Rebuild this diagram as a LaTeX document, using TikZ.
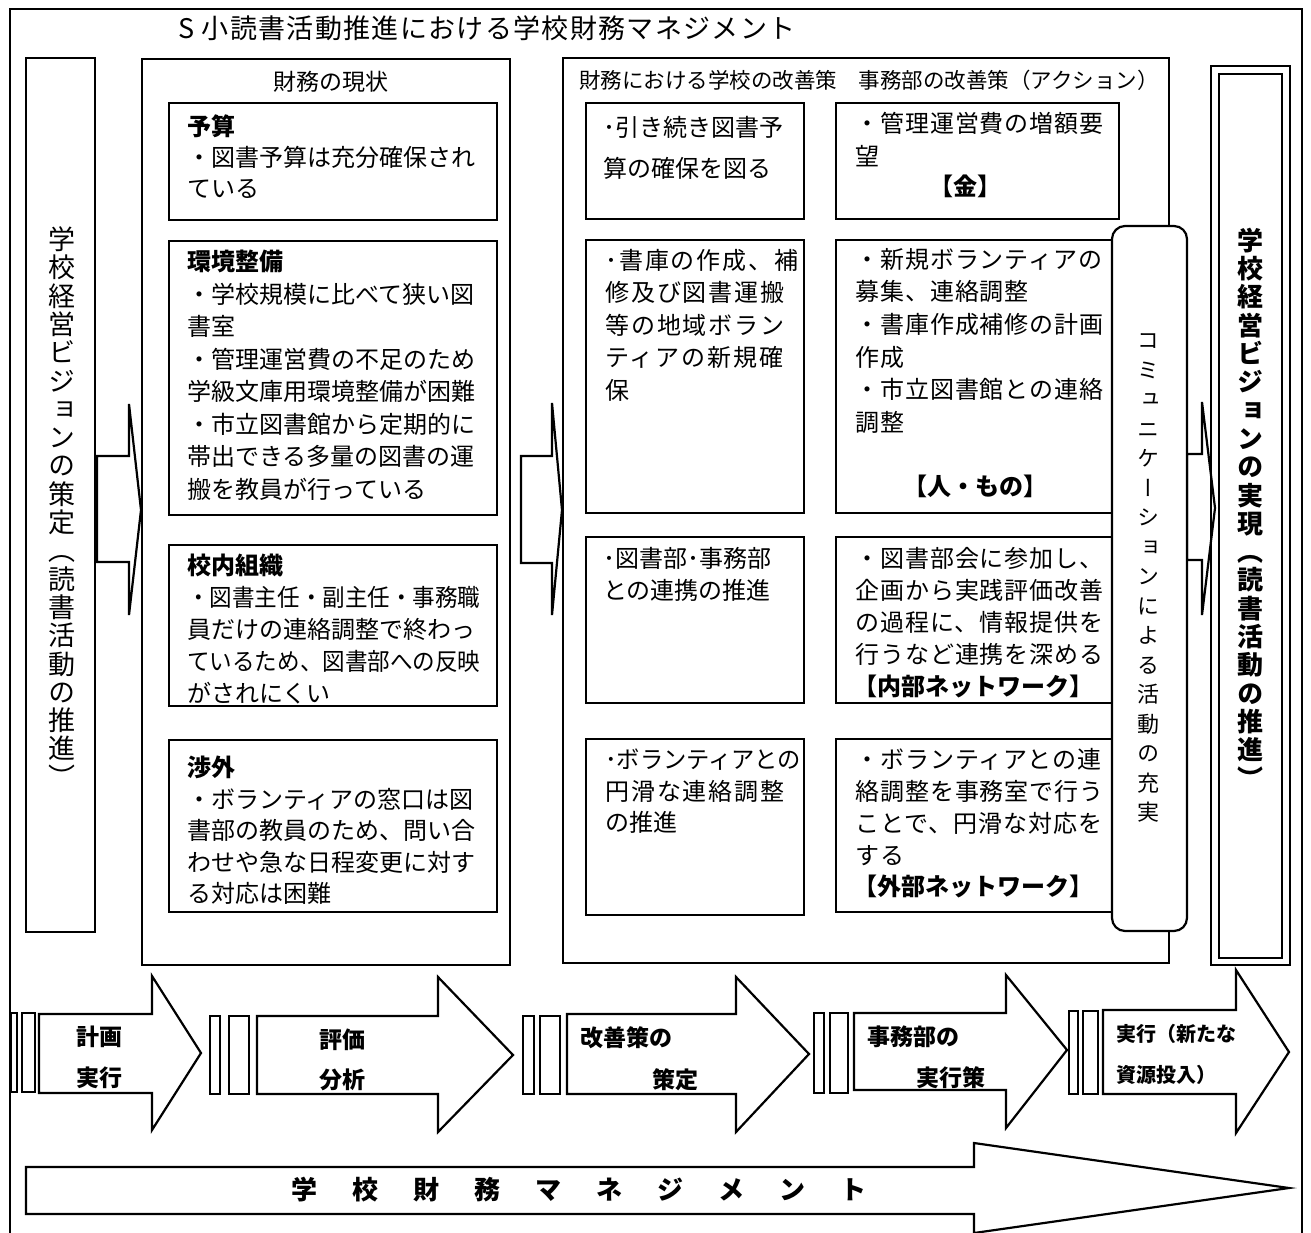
\documentclass[tikz,border=0pt]{standalone}
\usepackage{fontspec}
\setmainfont{Noto Sans CJK JP}
\newfontfamily\vfont[RawFeature=+vert]{Noto Sans CJK JP}
\newcommand{\lsp}[1]{\addfontfeature{LetterSpace=#1}}
\begin{document}
\begin{tikzpicture}[x=1pt,y=-1pt,
 frame/.style={draw, line width=2pt},
 box/.style={draw, line width=2.2pt, fill=white},
 blk/.style={draw, line width=2.2pt, fill=white, line join=miter},
 t/.style={font=\fontsize{24}{32.5}\selectfont, align=left, inner sep=0pt, anchor=north west},
 tb/.style={font=\bfseries\fontsize{24}{30}\selectfont, inner sep=0pt},
 ts/.style={font=\bfseries\fontsize{23}{30}\selectfont, inner sep=0pt, anchor=west},
 vt/.style={align=center, inner sep=0pt},
]
\useasboundingbox (0,0) rectangle (1311,1232);
% outer frame
\draw[frame] (10,1240) -- (10,9) -- (1302,9) -- (1302,1240);
\node[anchor=west, inner sep=0pt, font=\fontsize{27}{30}\selectfont\lsp{5}] (title) at (178,28) {S 小読書活動推進における学校財務マネジメント};

% columns
\draw[box] (26,58) rectangle (95,932);
\draw[box] (142,59) rectangle (510,965);
\draw[box] (563,58) rectangle (1169,963);

% status boxes
\draw[box] (169,103) rectangle (497,220);
\draw[box] (169,241) rectangle (497,515);
\draw[box] (169,545) rectangle (497,706);
\draw[box] (169,740) rectangle (497,912);

% improvement boxes
\draw[box] (586,103) rectangle (804,219);
\draw[box] (586,240) rectangle (804,513);
\draw[box] (586,537) rectangle (804,703);
\draw[box] (586,739) rectangle (804,915);
\draw[box] (836,103) rectangle (1119,219);
\draw[box] (836,240) rectangle (1119,513);
\draw[box] (836,537) rectangle (1119,703);
\draw[box] (836,739) rectangle (1119,912);

% column arrows
\draw[blk] (97,456) -- (129,456) -- (129,404) -- (141,510) -- (129,615) -- (129,562) -- (97,562) -- cycle;
\draw[blk] (521,456) -- (552,456) -- (552,403) -- (562,510) -- (552,615) -- (552,563) -- (521,563) -- cycle;
\draw[blk] (1187,454) -- (1202,454) -- (1202,402) -- (1215,508) -- (1202,615) -- (1202,560) -- (1187,560) -- cycle;

% communication pill
\draw[box, rounded corners=13pt] (1112,226) rectangle (1187,931);

% right double frame
\draw[line width=2.6pt] (1211,66) rectangle (1290,965);
\draw[line width=2pt] (1219,74) rectangle (1282,958);

% bottom cycle arrows
\draw[box] (11,1013) rectangle (17,1092);
\draw[box] (22,1013) rectangle (35,1092);
\draw[blk] (39,1014) -- (152,1014) -- (152,976) -- (201,1053) -- (152,1130) -- (152,1093) -- (39,1093) -- cycle;
\draw[box] (210,1016) rectangle (220,1094);
\draw[box] (229,1016) rectangle (249,1094);
\draw[blk] (257,1016) -- (438,1016) -- (438,977) -- (513,1055) -- (438,1132) -- (438,1094) -- (257,1094) -- cycle;
\draw[box] (523,1016) rectangle (534,1094);
\draw[box] (540,1016) rectangle (560,1094);
\draw[blk] (567,1014) -- (736,1014) -- (736,977) -- (809,1054) -- (736,1132) -- (736,1094) -- (567,1094) -- cycle;
\draw[box] (814,1013) rectangle (824,1093);
\draw[box] (830,1013) rectangle (848,1093);
\draw[blk] (854,1013) -- (1006,1013) -- (1006,975) -- (1067,1050) -- (1006,1128) -- (1006,1090) -- (854,1090) -- cycle;
\draw[box] (1069,1011) rectangle (1078,1094);
\draw[box] (1083,1011) rectangle (1098,1094);
\draw[blk] (1103,1010) -- (1236,1010) -- (1236,970) -- (1289,1052) -- (1236,1133) -- (1236,1094) -- (1103,1094) -- cycle;

% big arrow
\draw[blk] (26,1167) -- (974,1167) -- (974,1143) -- (1289,1188) -- (974,1233) -- (974,1214) -- (26,1214) -- cycle;

% texts: column headers
\node[inner sep=0pt, font=\fontsize{23}{28}\selectfont] (h1) at (331,82) {財務の現状};
\node[anchor=west, inner sep=0pt, font=\fontsize{21.5}{26}\selectfont] (h2) at (579,80) {財務における学校の改善策　事務部の改善策（アクション）};

% status texts
\node[t, font=\fontsize{24}{31}\selectfont] (s1) at (187,115) {\textbf{予算}\\・図書予算は充分確保され\\ている};
\node[t] (s2) at (187,250) {\textbf{環境整備}\\・学校規模に比べて狭い図\\書室\\・管理運営費の不足のため\\学級文庫用環境整備が困難\\・市立図書館から定期的に\\帯出できる多量の図書の運\\搬を教員が行っている};
\node[t, font=\fontsize{24}{32}\selectfont] (s3) at (187,554) {\textbf{校内組織}\\\scalebox{0.94}[1]{・図書主任・副主任・事務職}\\員だけの連絡調整で終わっ\\\scalebox{0.94}[1]{ているため、図書部への反映}\\がされにくい};
\node[t, font=\fontsize{24}{31.5}\selectfont] (s4) at (187,756) {\textbf{渉外}\\・ボランティアの窓口は図\\書部の教員のため、問い合\\わせや急な日程変更に対す\\る対応は困難};

% improvement texts
\node[t, font=\fontsize{24}{41}\selectfont] (a1) at (603,116) {･引き続き図書予\\算の確保を図る};
\node[t, font=\fontsize{24}{32.5}\selectfont\lsp{8}] (a2) at (605,249) {･書庫の作成、補\\修及び図書運搬\\等の地域ボラン\\ティアの新規確\\保};
\node[t, font=\fontsize{24}{32}\selectfont] (a3) at (603,547) {･図書部･事務部\\との連携の推進};
\node[t, font=\fontsize{24}{31.5}\selectfont] (a4) at (605,749) {\scalebox{0.97}[1]{･ボランティアとの}\\{\lsp{8}円滑な連絡調整}\\の推進};

\node[t, font=\fontsize{24}{33}\selectfont\lsp{4}] (b1) at (855,112) {・管理運営費の増額要\\望};
\node[tb] (b1k) at (965,186) {【金】};
\node[t, font=\fontsize{24}{32.6}\selectfont\lsp{4}] (b2) at (855,248) {・新規ボランティアの\\募集、連絡調整\\・書庫作成補修の計画\\作成\\・市立図書館との連絡\\調整};
\node[tb] (b2k) at (975,486) {【人・もの】};
\node[t, font=\fontsize{24}{32}\selectfont\lsp{4}] (b3) at (855,547) {・図書部会に参加し、\\企画から実践評価改善\\の過程に、情報提供を\\行うなど連携を深める};
\node[tb] (b3k) at (973,686) {【内部ネットワーク】};
\node[t, font=\fontsize{24}{32}\selectfont\lsp{4}] (b4) at (855,748) {・ボランティアとの連\\絡調整を事務室で行う\\ことで、円滑な対応を\\する};
\node[tb] (b4k) at (973,886) {【外部ネットワーク】};

% vertical texts
\node[vt, font=\vfont\fontsize{27}{28.3}\selectfont] (vl) at (62,507) {学\\校\\経\\営\\ビ\\ジ\\ョ\\ン\\の\\策\\定\\（\\読\\書\\活\\動\\の\\推\\進\\）};
\node[vt, font=\vfont\bfseries\fontsize{26}{28.3}\selectfont] (vr) at (1250,508) {学\\校\\経\\営\\ビ\\ジ\\ョ\\ン\\の\\実\\現\\（\\読\\書\\活\\動\\の\\推\\進\\）};
\node[vt, font=\vfont\fontsize{22}{29.5}\selectfont] (vc) at (1148,578) {コ\\ミ\\ュ\\ニ\\ケ\\ー\\シ\\ョ\\ン\\に\\よ\\る\\活\\動\\の\\充\\実};

% bottom arrow texts
\node[ts] (p1a) at (76,1037) {計画};
\node[ts] (p1b) at (76,1078) {実行};
\node[ts] (p2a) at (319,1040) {評価};
\node[ts] (p2b) at (319,1080) {分析};
\node[ts] (p3a) at (580,1038) {改善策の};
\node[ts] (p3b) at (652,1080) {策定};
\node[ts] (p4a) at (867,1037) {事務部の};
\node[ts] (p4b) at (916,1078) {実行策};
\node[ts, font=\bfseries\fontsize{20}{26}\selectfont] (p5a) at (1116,1034) {実行（新たな};
\node[ts, font=\bfseries\fontsize{20}{26}\selectfont] (p5b) at (1116,1075) {資源投入）};

\node[inner sep=0pt, font=\bfseries\fontsize{26}{30}\selectfont] (mgmt) at (579,1190) {学\hspace{35pt}校\hspace{35pt}財\hspace{35pt}務\hspace{35pt}マ\hspace{35pt}ネ\hspace{35pt}ジ\hspace{35pt}メ\hspace{35pt}ン\hspace{35pt}ト};
\end{tikzpicture}
\end{document}
